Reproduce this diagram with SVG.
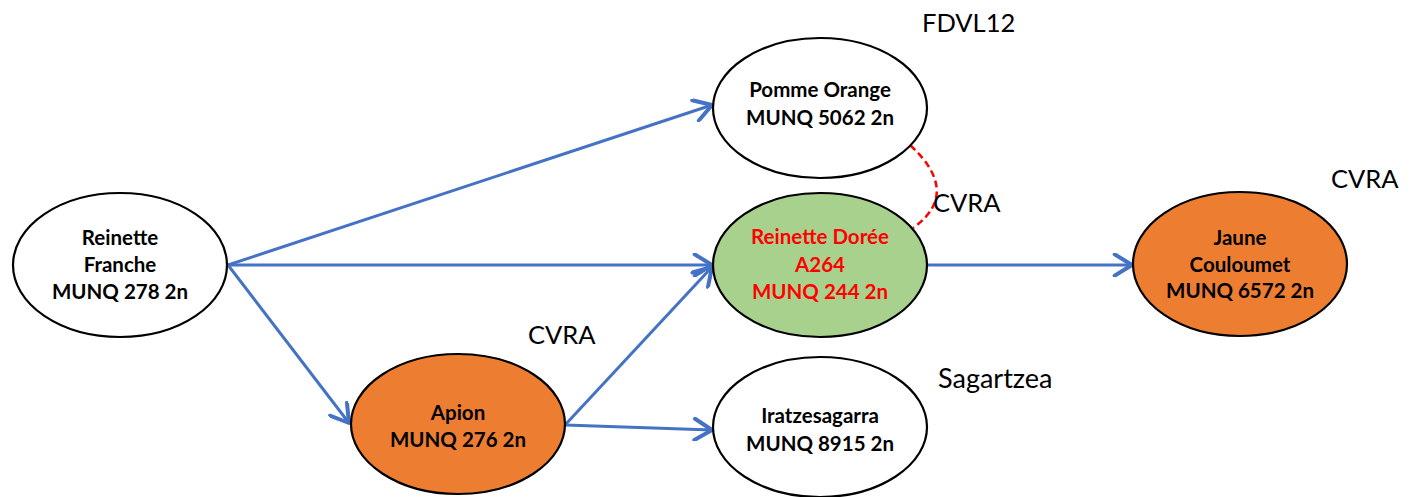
<svg xmlns="http://www.w3.org/2000/svg" width="1413" height="497" viewBox="0 0 1413 497">
<style>
.node{stroke:#000;stroke-width:2.2}
.w{fill:#fff}
.o{fill:#ED7D31}
.g{fill:#A9D18E}
.t{font-family:Lato,"Liberation Sans",sans-serif;font-weight:bold;font-size:20.5px;text-anchor:middle;fill:#000}
.red{fill:#FF0000}
.lbl{font-family:Lato,"Liberation Sans",sans-serif;font-size:25.5px;fill:#000}
.c{stroke:#4472C4;stroke-width:3;fill:none}
</style>
<defs>
<marker id="ah" markerUnits="userSpaceOnUse" markerWidth="24" markerHeight="24" refX="15" refY="9" orient="auto" viewBox="0 0 18 18">
<path d="M2,1 L15,9 L2,17" fill="none" stroke="#4472C4" stroke-width="3" stroke-linecap="round" stroke-linejoin="round"/>
</marker>
</defs>
<g id="connectors">
<line class="c" x1="228" y1="265" x2="712" y2="105" marker-end="url(#ah)"/>
<line class="c" x1="228" y1="265" x2="712" y2="265" marker-end="url(#ah)"/>
<line class="c" x1="228" y1="265" x2="349" y2="423" marker-end="url(#ah)"/>
<line class="c" x1="565" y1="425" x2="712" y2="267" marker-end="url(#ah)"/>
<line class="c" x1="565" y1="425" x2="712" y2="430" marker-end="url(#ah)"/>
<line class="c" x1="928" y1="265" x2="1132" y2="265" marker-end="url(#ah)"/>
<path d="M910,145 Q962,193 913,228" fill="none" stroke="#FF0000" stroke-width="2.5" stroke-dasharray="7,4"/>
</g>
<g id="reinette-franche">
<ellipse class="node w" cx="120" cy="265" rx="107" ry="72"/>
<text class="t" x="120" y="245">Reinette</text>
<text class="t" x="120" y="272">Franche</text>
<text class="t" x="120" y="299">MUNQ 278 2n</text>
</g>
<g id="pomme-orange">
<ellipse class="node w" cx="820" cy="108" rx="107" ry="70"/>
<text class="t" x="820" y="97">Pomme Orange</text>
<text class="t" x="820" y="125">MUNQ 5062 2n</text>
</g>
<g id="reinette-doree">
<ellipse class="node g" cx="820" cy="265" rx="107" ry="72"/>
<text class="t red" x="820" y="244">Reinette Dorée</text>
<text class="t red" x="820" y="272">A264</text>
<text class="t red" x="820" y="299">MUNQ 244 2n</text>
</g>
<g id="jaune-couloumet">
<ellipse class="node o" cx="1240" cy="264" rx="107" ry="72"/>
<text class="t" x="1240" y="245">Jaune</text>
<text class="t" x="1240" y="272">Couloumet</text>
<text class="t" x="1240" y="298">MUNQ 6572 2n</text>
</g>
<g id="apion">
<ellipse class="node o" cx="458" cy="424" rx="107" ry="70"/>
<text class="t" x="458" y="420">Apion</text>
<text class="t" x="458" y="447">MUNQ 276 2n</text>
</g>
<g id="iratzesagarra">
<ellipse class="node w" cx="820" cy="427" rx="107" ry="70"/>
<text class="t" x="820" y="423">Iratzesagarra</text>
<text class="t" x="820" y="451">MUNQ 8915 2n</text>
</g>
<g id="labels">
<text class="lbl" x="922" y="32">FDVL12</text>
<text class="lbl" x="933" y="212">CVRA</text>
<text class="lbl" x="1331" y="188">CVRA</text>
<text class="lbl" x="528" y="344">CVRA</text>
<text class="lbl" x="938" y="388" style="font-size:27px">Sagartzea</text>
</g>
</svg>
